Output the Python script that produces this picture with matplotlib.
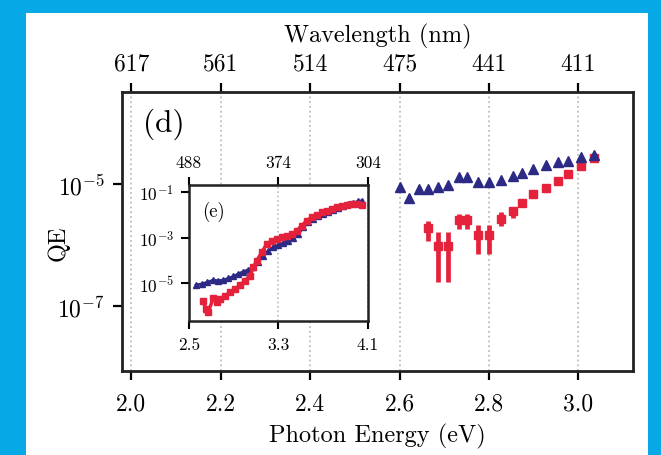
import matplotlib
matplotlib.use("Agg")
import matplotlib.pyplot as plt
import numpy as np
from matplotlib.patches import Rectangle

plt.rcParams['font.family'] = 'serif'
plt.rcParams['font.serif'] = ['cmr10', 'DejaVu Serif']
plt.rcParams['mathtext.fontset'] = 'cm'
plt.rcParams['axes.formatter.use_mathtext'] = True
plt.rcParams['axes.unicode_minus'] = False

# main panel (d): photon energy (eV) and log10(QE)
blue_E = [2.601, 2.621, 2.644, 2.664, 2.686, 2.709, 2.733, 2.751, 2.776, 2.800,
          2.827, 2.854, 2.874, 2.899, 2.928, 2.955, 2.977, 3.006, 3.035]
blue_logqe = [-5.05, -5.23, -5.08, -5.08, -5.05, -5.02, -4.89, -4.89, -4.97, -4.97,
              -4.93, -4.87, -4.82, -4.75, -4.69, -4.64, -4.62, -4.56, -4.52]

red_E = [2.664, 2.686, 2.709, 2.733, 2.751, 2.776, 2.800, 2.827,
         2.854, 2.874, 2.899, 2.928, 2.955, 2.977, 3.006, 3.035]
red_logqe = [-5.73, -6.01, -6.01, -5.59, -5.59, -5.83, -5.83, -5.57,
             -5.45, -5.32, -5.16, -5.07, -4.95, -4.84, -4.70, -4.58]
red_loglo = [-5.93, -6.61, -6.61, -5.74, -5.74, -6.15, -6.15, -5.69,
             -5.56, -5.36, -5.19, -5.09, -4.97, -4.86, -4.72, -4.60]
red_loghi = [-5.61, -5.79, -5.79, -5.49, -5.49, -5.68, -5.68, -5.46,
             -5.38, -5.28, -5.13, -5.05, -4.93, -4.82, -4.68, -4.56]

main_ticks = [2.0, 2.2, 2.4, 2.6, 2.8, 3.0]
wl_labels = ['617', '561', '514', '475', '441', '411']

# inset (e)
ins_blue_E = [2.563, 2.613, 2.664, 2.717, 2.762, 2.807, 2.851, 2.896, 2.941, 2.985,
              3.030, 3.075, 3.119, 3.164, 3.209, 3.253, 3.298, 3.343, 3.387, 3.432,
              3.477, 3.521, 3.566, 3.611, 3.655, 3.700, 3.745, 3.790, 3.834, 3.879,
              3.924, 3.968, 4.013, 4.043]
ins_blue_log = [-5.09, -5.04, -4.97, -4.87, -4.90, -4.87, -4.80, -4.71, -4.60, -4.50,
                -4.42, -4.31, -4.06, -3.80, -3.58, -3.43, -3.32, -3.24, -3.14, -3.04,
                -2.85, -2.55, -2.33, -2.19, -2.07, -1.97, -1.87, -1.78, -1.70, -1.60,
                -1.54, -1.48, -1.41, -1.38]
ins_red_E = [2.622, 2.652, 2.673, 2.717, 2.753, 2.777, 2.822, 2.866, 2.911, 2.956,
             3.000, 3.045, 3.075, 3.105, 3.150, 3.194, 3.239, 3.284, 3.328, 3.373,
             3.418, 3.462, 3.507, 3.552, 3.597, 3.641, 3.686, 3.731, 3.775, 3.820,
             3.865, 3.909, 3.954, 3.999, 4.043]
ins_red_log = [-5.78, -6.14, -6.26, -5.67, -5.85, -5.70, -5.56, -5.41, -5.26, -5.09,
               -4.90, -4.68, -4.31, -4.02, -3.65, -3.29, -3.14, -3.07, -2.99, -2.92,
               -2.85, -2.70, -2.48, -2.26, -2.11, -2.01, -1.89, -1.82, -1.75, -1.67,
               -1.63, -1.57, -1.53, -1.53, -1.57]
ins_ticks = [2.5, 3.3, 4.1]
ins_wl = ['488', '374', '304']

BLUE = '#2d2a85'
RED = '#e4223b'
GRID = '#bdbdbd'

fig = plt.figure(figsize=(6.61, 4.56), dpi=100)
fig.patch.set_facecolor('#06a9e6')
fig.patches.append(Rectangle((26 / 661, 0), (648 - 26) / 661, 1 - 14 / 456,
                             transform=fig.transFigure, facecolor='white',
                             edgecolor='none', zorder=-5))

ax = fig.add_axes([122 / 661, 1 - 372 / 456, 511 / 661, 279 / 456])
ax.set_yscale('log')

qe = 10 ** np.array(red_logqe)
lo = qe - 10 ** np.array(red_loglo)
hi = 10 ** np.array(red_loghi) - qe
ax.errorbar(red_E, qe, yerr=[lo, hi], fmt='s', color=RED, ms=6, mec=RED,
            elinewidth=3.4, capsize=0, zorder=3)
ax.plot(blue_E, 10 ** np.array(blue_logqe), '^', color=BLUE, ms=7.5, mec=BLUE, zorder=4)

ax.set_xlim(1.979, 3.122)
ax.set_ylim(10 ** -8.07, 10 ** -3.49)
ax.set_xticks(main_ticks)
ax.set_xticklabels(['%.1f' % t for t in main_ticks])
ax.set_yticks([1e-5, 1e-7])
ax.set_yticklabels([r'$10^{-5}$', r'$10^{-7}$'])
ax.yaxis.set_minor_locator(matplotlib.ticker.NullLocator())
ax.grid(axis='x', color=GRID, linestyle=':', linewidth=1.3)
ax.tick_params(direction='out', length=6.5, width=1.6, labelsize=17, pad=6)
ax.tick_params(axis='x', pad=9)
for s in ax.spines.values():
    s.set_linewidth(2.0)
    s.set_color('#222222')
ax.set_xlabel('Photon Energy (eV)', fontsize=17.5, labelpad=6)
ax.set_ylabel('QE', fontsize=17.5)
ax.yaxis.set_label_coords(-0.103, 0.46)

top = ax.secondary_xaxis('top')
top.set_xticks(main_ticks)
top.set_xticklabels(wl_labels)
top.tick_params(direction='out', length=6.5, width=1.6, labelsize=17, pad=6)
top.set_xlabel('Wavelength (nm)', fontsize=17.5, labelpad=8)

ax.text(0.041, 0.945, '(d)', transform=ax.transAxes, fontsize=22.5, va='top')

# inset
ins = fig.add_axes([189 / 661, 1 - 322 / 456, 179 / 661, 136 / 456])
ins.set_yscale('log')
ins.plot(ins_blue_E, 10 ** np.array(ins_blue_log), '^-', color=BLUE, ms=5, lw=2, zorder=3)
ins.plot(ins_red_E, 10 ** np.array(ins_red_log), 's-', color=RED, ms=4.5, lw=2.5, zorder=4)
ins.set_xlim(2.5, 4.1)
ins.set_ylim(10 ** -6.67, 10 ** -0.69)
ins.set_xticks(ins_ticks)
ins.set_xticklabels(['%.1f' % t for t in ins_ticks])
ins.set_yticks([1e-1, 1e-3, 1e-5])
ins.set_yticklabels([r'$10^{-1}$', r'$10^{-3}$', r'$10^{-5}$'])
ins.yaxis.set_minor_locator(matplotlib.ticker.NullLocator())
ins.grid(axis='x', color=GRID, linestyle=':', linewidth=1.2)
ins.tick_params(direction='out', length=6, width=1.5, labelsize=12.5, pad=5)
for s in ins.spines.values():
    s.set_linewidth(1.8)
    s.set_color('#222222')
itop = ins.secondary_xaxis('top')
itop.set_xticks(ins_ticks)
itop.set_xticklabels(ins_wl)
itop.tick_params(direction='out', length=6, width=1.5, labelsize=12.5, pad=5)
ins.text(0.073, 0.885, '(e)', transform=ins.transAxes, fontsize=13.5, va='top')

fig.savefig('out.png', dpi=100, facecolor=fig.get_facecolor())
